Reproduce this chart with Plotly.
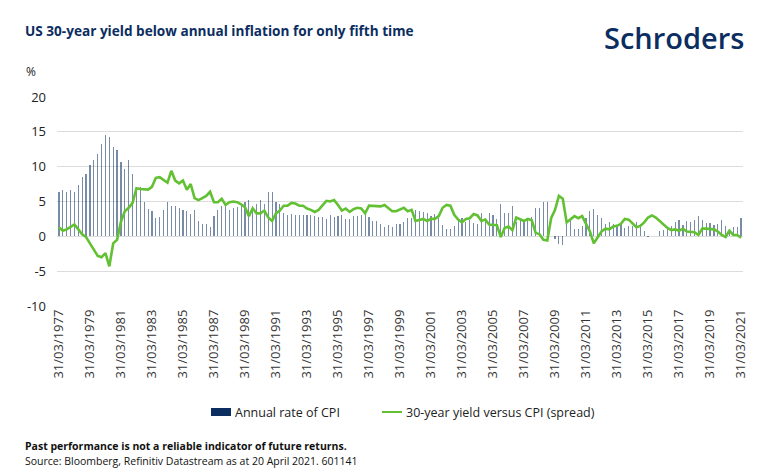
import plotly.graph_objects as go

cpi = [
    6.4, 6.7, 6.4, 6.7,    # 1977
    6.4, 7.4, 8.5, 9.0,    # 1978
    10.3, 11.0, 11.8, 13.2,  # 1979
    14.5, 14.3, 12.8, 12.4,  # 1980
    10.6, 9.7, 11.0, 8.9,  # 1981
    6.9, 7.1, 4.9, 3.9,    # 1982
    3.7, 2.6, 2.8, 3.8,    # 1983
    5.0, 4.3, 4.3, 4.0,    # 1984
    3.8, 3.7, 3.2, 3.8,    # 1985
    2.2, 1.8, 1.8, 1.3,    # 1986
    2.9, 3.8, 4.4, 4.3,    # 1987
    3.8, 4.0, 4.2, 4.5,    # 1988
    4.9, 5.2, 4.4, 4.6,    # 1989
    5.2, 4.7, 6.3, 6.3,    # 1990
    4.9, 4.7, 3.4, 3.1,    # 1991
    3.2, 3.0, 3.0, 3.0,    # 1992
    3.0, 3.0, 2.9, 2.8,    # 1993
    2.8, 2.5, 3.0, 2.8,    # 1994
    2.9, 3.0, 2.5, 2.5,    # 1995
    2.9, 2.9, 3.0, 3.2,    # 1996
    2.8, 2.2, 2.2, 1.7,    # 1997
    1.4, 1.6, 1.4, 1.7,    # 1998
    1.7, 2.0, 2.6, 2.7,    # 1999
    3.8, 3.7, 3.5, 3.4,    # 2000
    2.9, 3.2, 2.6, 1.6,    # 2001
    1.1, 1.1, 1.5, 2.2,    # 2002
    2.7, 2.1, 2.3, 1.9,    # 2003
    1.7, 3.3, 2.5, 3.3,    # 2004
    3.1, 2.5, 4.7, 3.4,    # 2005
    3.4, 4.3, 2.1, 2.5,    # 2006
    2.4, 2.7, 2.8, 4.1,    # 2007
    4.0, 5.0, 4.9, 0.1,    # 2008
    -0.4, -1.1, -1.3, 2.7,  # 2009
    2.3, 1.1, 1.1, 1.5,    # 2010
    2.7, 3.6, 3.9, 3.0,    # 2011
    2.7, 1.7, 2.0, 1.7,    # 2012
    1.5, 1.8, 1.2, 1.5,    # 2013
    1.5, 2.1, 1.7, 0.8,    # 2014
    -0.1, 0.1, 0.0, 0.7,   # 2015
    0.9, 1.0, 1.5, 2.1,    # 2016
    2.4, 1.6, 2.2, 2.1,    # 2017
    2.4, 2.9, 2.3, 1.9,    # 2018
    1.9, 1.6, 1.7, 2.3,    # 2019
    1.5, 0.6, 1.4, 1.4,    # 2020
    2.6,                   # 2021
]

spread = [
    1.3, 0.8, 1.0, 1.3,    # 1977
    1.7, 1.0, 0.3, -0.1,   # 1978
    -1.0, -1.8, -2.8, -3.0,  # 1979
    -2.4, -4.3, -1.0, -0.5,  # 1980
    2.1, 3.6, 4.1, 4.8,    # 1981
    6.9, 6.8, 6.8, 6.7,    # 1982
    7.1, 8.4, 8.5, 8.1,    # 1983
    7.7, 9.4, 8.0, 7.6,    # 1984
    8.0, 6.7, 7.5, 5.5,    # 1985
    5.2, 5.5, 5.8, 6.4,    # 1986
    4.9, 4.9, 5.4, 4.5,    # 1987
    4.9, 5.0, 4.9, 4.6,    # 1988
    4.2, 2.9, 4.0, 3.3,    # 1989
    3.3, 3.7, 2.7, 2.2,    # 1990
    3.3, 3.7, 4.4, 4.4,    # 1991
    4.8, 4.7, 4.4, 4.4,    # 1992
    4.0, 3.8, 3.5, 3.8,    # 1993
    4.5, 5.1, 5.0, 5.2,    # 1994
    4.5, 3.7, 4.0, 3.5,    # 1995
    3.9, 4.1, 4.0, 3.3,    # 1996
    4.4, 4.4, 4.3, 4.3,    # 1997
    4.5, 4.0, 3.6, 3.6,    # 1998
    3.9, 4.1, 3.6, 3.8,    # 1999
    2.2, 2.3, 2.5, 2.2,    # 2000
    2.5, 2.5, 2.9, 4.1,    # 2001
    4.5, 4.4, 3.1, 2.4,    # 2002
    2.0, 2.5, 2.6, 3.2,    # 2003
    3.0, 2.2, 2.4, 1.7,    # 2004
    1.6, 1.6, -0.1, 1.2,   # 2005
    1.4, 0.9, 2.7, 2.4,    # 2006
    2.2, 2.5, 2.3, 0.5,    # 2007
    0.3, -0.5, -0.6, 2.6,  # 2008
    3.8, 5.8, 5.4, 2.0,    # 2009
    2.4, 2.9, 2.6, 2.9,    # 2010
    1.8, 0.7, -1.0, -0.1,  # 2011
    0.7, 1.1, 1.0, 1.4,    # 2012
    1.5, 1.8, 2.5, 2.4,    # 2013
    1.9, 1.3, 1.5, 2.0,    # 2014
    2.7, 3.0, 2.7, 2.2,    # 2015
    1.7, 1.2, 0.9, 1.0,    # 2016
    0.8, 1.1, 0.7, 0.7,    # 2017
    0.6, 0.2, 1.1, 1.1,    # 2018
    1.0, 1.0, 0.7, 0.2,    # 2019
    -0.1, 0.8, 0.2, 0.2,   # 2020
    -0.2,                  # 2021
]

quarters = list(range(len(cpi)))
tick_years = list(range(1977, 2022, 2))
tick_labels = [f"31/03/{y}" for y in tick_years]
tick_positions = [(y - 1977) * 4 for y in tick_years]
y_ticks = [-10, -5, 0, 5, 10, 15, 20]
y_labels = ["-10", "-5", "0", "5", "10", "15", "20"]
series_names = ["Annual rate of CPI", "30-year yield versus CPI (spread)"]

NAVY = "#0b2d5f"
BAR = "rgba(11,45,95,0.55)"
GREEN = "#62c132"
FONT = "Open Sans"

# plot-area geometry (pixels) used to place paper-referenced decorations
L, R, T, B = 57, 743, 97, 306
W, H = R - L, B - T


def px(x):
    return (x - L) / W


def py(y):
    return (B - y) / H


fig = go.Figure()
fig.add_trace(go.Bar(
    x=quarters, y=cpi, name=series_names[0], showlegend=False,
    marker=dict(color=BAR, line=dict(width=0)), width=0.3,
))
fig.add_trace(go.Scatter(
    x=quarters, y=spread, name=series_names[1], showlegend=False,
    mode="lines", line=dict(color=GREEN, width=2.6),
))

fig.update_layout(
    width=770, height=475,
    margin=dict(l=L, r=770 - R, t=T, b=475 - B),
    paper_bgcolor="white", plot_bgcolor="white",
    font=dict(family=FONT, color="#222222", size=12),
    bargap=0,
)
fig.update_xaxes(
    range=[-0.5, len(cpi) - 0.5],
    tickmode="array", tickvals=tick_positions, ticktext=tick_labels,
    tickangle=-90, tickfont=dict(size=13, color="#333333"),
    showgrid=False, zeroline=False, showline=False, ticks="",
)
fig.update_yaxes(
    range=[-10, 20],
    tickmode="array", tickvals=y_ticks, ticktext=y_labels,
    tickfont=dict(size=13, color="#222222"),
    showgrid=True, gridcolor="#dcdcdc", gridwidth=1,
    zeroline=False, showline=False, ticks="", ticklabelstandoff=10,
)

# custom legend
fig.add_shape(type="rect", xref="paper", yref="paper",
              x0=px(211), x1=px(231), y0=py(416), y1=py(408),
              fillcolor=NAVY, line=dict(width=0))
fig.add_annotation(text=series_names[0], xref="paper", yref="paper",
                   x=px(233), y=py(412), xanchor="left", yanchor="middle", showarrow=False,
                   font=dict(size=12.5, color="#222222", family=FONT))
fig.add_shape(type="line", xref="paper", yref="paper",
              x0=px(382), x1=px(402), y0=py(412), y1=py(412),
              line=dict(color=GREEN, width=2))
fig.add_annotation(text=series_names[1], xref="paper", yref="paper",
                   x=px(404), y=py(412), xanchor="left", yanchor="middle", showarrow=False,
                   font=dict(size=12.5, color="#222222", family=FONT))

fig.add_annotation(text="<b>US 30-year yield below annual inflation for only fifth time</b>",
                   xref="paper", yref="paper", x=px(23), y=py(30), xanchor="left", yanchor="middle",
                   showarrow=False, font=dict(size=13.6, color=NAVY, family=FONT))
fig.add_annotation(text="%", xref="paper", yref="paper", x=px(24), y=py(72), xanchor="left",
                   yanchor="middle", showarrow=False,
                   font=dict(size=12, color="#222222", family=FONT))
fig.add_annotation(text="Schroders", xref="paper", yref="paper", x=px(746), y=py(37),
                   xanchor="right", yanchor="middle", showarrow=False,
                   font=dict(size=29, color=NAVY, family=FONT, weight=600))
fig.add_annotation(text="<b>Past performance is not a reliable indicator of future returns.</b>",
                   xref="paper", yref="paper", x=px(23), y=py(446), xanchor="left", yanchor="middle",
                   showarrow=False, font=dict(size=10.5, color="#111111", family=FONT))
fig.add_annotation(text="Source: Bloomberg, Refinitiv Datastream as at 20 April 2021. 601141",
                   xref="paper", yref="paper", x=px(23), y=py(461), xanchor="left", yanchor="middle",
                   showarrow=False, font=dict(size=10.5, color="#111111", family=FONT))

fig.write_html("out.html")
